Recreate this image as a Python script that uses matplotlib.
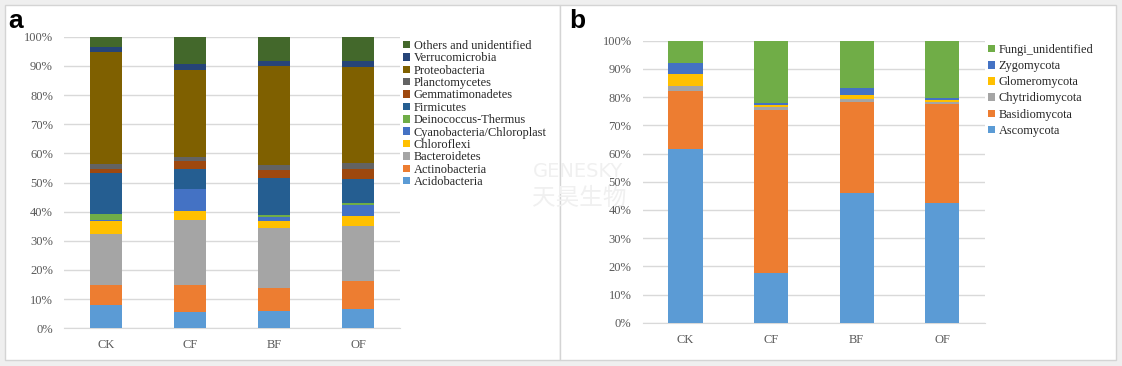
import matplotlib
matplotlib.use("Agg")
import matplotlib.pyplot as plt
from matplotlib.patches import Rectangle, Patch
import numpy as np

samples = ["CK", "CF", "BF", "OF"]

bact_names = ["Acidobacteria", "Actinobacteria", "Bacteroidetes", "Chloroflexi",
              "Cyanobacteria/Chloroplast", "Deinococcus-Thermus", "Firmicutes",
              "Gemmatimonadetes", "Planctomycetes", "Proteobacteria",
              "Verrucomicrobia", "Others and unidentified"]
bact_colors = ["#5B9BD5", "#ED7D31", "#A5A5A5", "#FFC000", "#4472C4", "#70AD47",
               "#255E91", "#9E480E", "#636363", "#7F6000", "#264478", "#43682B"]
# values in % for CK, CF, BF, OF
acidobacteria = [7.9, 5.7, 5.9, 6.6]
actinobacteria = [7.0, 9.2, 8.0, 9.6]
bacteroidetes = [17.4, 22.2, 20.6, 19.0]
chloroflexi = [4.5, 3.1, 2.3, 3.3]
cyanobacteria = [0.3, 7.6, 1.4, 3.8]
deinococcus = [2.1, 0.1, 0.7, 0.6]
firmicutes = [14.2, 6.6, 12.6, 8.3]
gemmatimonadetes = [1.1, 2.8, 2.9, 3.4]
planctomycetes = [2.0, 1.4, 1.6, 2.0]
proteobacteria = [38.1, 30.0, 34.0, 33.1]
verrucomicrobia = [1.7, 2.0, 1.7, 2.0]
others_bact = [3.7, 9.3, 8.3, 8.3]
bact_values = [acidobacteria, actinobacteria, bacteroidetes, chloroflexi,
               cyanobacteria, deinococcus, firmicutes, gemmatimonadetes,
               planctomycetes, proteobacteria, verrucomicrobia, others_bact]

fungi_names = ["Ascomycota", "Basidiomycota", "Chytridiomycota", "Glomeromycota",
               "Zygomycota", "Fungi_unidentified"]
fungi_colors = ["#5B9BD5", "#ED7D31", "#A5A5A5", "#FFC000", "#4472C4", "#70AD47"]
ascomycota = [61.6, 17.5, 45.9, 42.3]
basidiomycota = [20.7, 57.9, 32.5, 35.2]
chytridiomycota = [1.5, 1.0, 0.9, 0.6]
glomeromycota = [4.4, 0.8, 1.6, 1.0]
zygomycota = [3.9, 0.6, 2.4, 0.7]
fungi_unidentified = [7.9, 22.2, 16.7, 20.2]
fungi_values = [ascomycota, basidiomycota, chytridiomycota, glomeromycota,
                zygomycota, fungi_unidentified]

yticks = [0, 10, 20, 30, 40, 50, 60, 70, 80, 90, 100]
ytick_labels = [f"{v}%" for v in yticks]

W, H = 1122, 366
fig = plt.figure(figsize=(W / 100, H / 100), dpi=100)
fig.patch.set_facecolor("#EFEFEF")

def fx(x):
    return x / W

def fy(y):
    return 1 - y / H

# white panels
for (x0, y0, x1, y1) in [(5, 5, 560, 360), (560, 5, 1116, 360)]:
    fig.patches.append(Rectangle((fx(x0), fy(y1)), fx(x1) - fx(x0), fy(y0) - fy(y1),
                                 transform=fig.transFigure, facecolor="white",
                                 edgecolor="#D4D4D4", linewidth=1, zorder=-10))

# watermark
fig.text(fx(533), fy(177), "GENESKY", fontsize=14, color="#F0F0F0",
         family="DejaVu Sans", va="baseline", ha="left", zorder=1)
fig.text(fx(532), fy(205), "天昊生物", fontsize=17, color="#F0F0F0",
         family=["Noto Sans CJK SC", "DejaVu Sans"], va="baseline", ha="left", zorder=1)

serif = "Liberation Serif"
tick_color = "#595959"

def draw(ax_rect, values, names, colors, width):
    ax = fig.add_axes(ax_rect)
    ax.set_zorder(2)
    ax.set_facecolor("none")
    x = np.arange(len(samples))
    bottom = np.zeros(len(samples))
    handles = []
    for vals, name, col in zip(values, names, colors):
        v = np.array(vals, dtype=float)
        ax.bar(x, v, width, bottom=bottom, color=col, linewidth=0, zorder=3)
        bottom += v
        handles.append(Patch(facecolor=col, edgecolor="none", label=name))
    ax.set_xlim(-0.5, len(samples) - 0.5)
    ax.set_ylim(0, 100)
    ax.set_yticks(yticks)
    ax.set_yticklabels(ytick_labels)
    ax.set_xticks(x)
    ax.set_xticklabels(samples)
    ax.grid(axis="y", color="#D9D9D9", linewidth=1, zorder=0)
    for s in ["top", "right", "left"]:
        ax.spines[s].set_visible(False)
    ax.spines["bottom"].set_color("#D9D9D9")
    ax.tick_params(axis="both", length=0, labelcolor=tick_color, labelsize=9)
    ax.tick_params(axis="y", pad=8)
    ax.tick_params(axis="x", pad=8)
    for lab in ax.get_xticklabels() + ax.get_yticklabels():
        lab.set_family(serif)
    return ax, handles[::-1]

ax1, h1 = draw([fx(64), fy(328.3), fx(400) - fx(64), fy(36.7) - fy(328.3)],
               bact_values, bact_names, bact_colors, 0.39)
leg1 = fig.legend(handles=h1, loc="upper left", bbox_to_anchor=(fx(403), fy(40)),
                  frameon=False, prop={"family": serif, "size": 8.9},
                  handlelength=0.55, handleheight=0.55, handletextpad=0.3,
                  labelspacing=0.03, borderaxespad=0, borderpad=0)
for t in leg1.get_texts():
    t.set_color("#262626")

ax2, h2 = draw([fx(642.7), fy(322.7), fx(985) - fx(642.7), fy(40.7) - fy(322.7)],
               fungi_values, fungi_names, fungi_colors, 0.4)
leg2 = fig.legend(handles=h2, loc="upper left", bbox_to_anchor=(fx(988), fy(44)),
                  frameon=False, prop={"family": serif, "size": 8.8},
                  handlelength=0.55, handleheight=0.55, handletextpad=0.3,
                  labelspacing=0.34, borderaxespad=0, borderpad=0)
for t in leg2.get_texts():
    t.set_color("#262626")

fig.text(fx(8), fy(28), "a", fontsize=19, fontweight="bold", family="Liberation Sans",
         va="baseline", ha="left")
fig.text(fx(569), fy(28), "b", fontsize=19, fontweight="bold", family="Liberation Sans",
         va="baseline", ha="left")

fig.savefig("out.png", dpi=100, facecolor=fig.get_facecolor())
